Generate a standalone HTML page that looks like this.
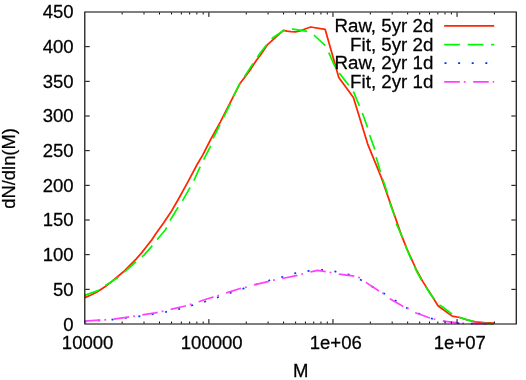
<!DOCTYPE html>
<html><head><meta charset="utf-8"><style>
html,body{margin:0;padding:0;background:#fff;overflow:hidden}
svg{display:block;will-change:transform}
text{font-family:"Liberation Sans",sans-serif;font-size:18px;fill:#000;stroke:#000;stroke-width:0.25px}
</style></head><body>
<svg width="526" height="380" viewBox="0 0 526 380">
<rect width="526" height="380" fill="#fff"/>
<path d="M84.8,297.6 L91.0,295.0 L97.4,291.8 L105.3,286.6 L111.9,281.4 L123.7,271.5 L129.6,265.6 L136.3,258.9 L141.8,252.6 L147.3,245.5 L152.0,239.6 L155.8,233.8 L163.7,222.8 L171.6,210.9 L177.8,200.2 L187.5,182.7 L197.4,164.0 L202.7,155.1 L210.4,140.0 L220.4,121.8 L239.8,83.8 L250.0,70.2 L256.6,60.0 L260.0,55.7 L267.8,44.3 L283.4,30.4 L287.0,31.2 L291.0,31.7 L295.4,31.8 L299.0,31.1 L303.0,29.8 L310.6,27.0 L325.2,29.4 L338.8,77.5 L353.4,97.6 L367.7,144.1 L381.4,177.6 L401.4,235.1 L406.9,248.8 L411.8,259.7 L416.7,270.5 L422.7,281.4 L429.6,292.2 L438.2,306.0 L452.2,316.1 L459.7,317.5 L467.1,319.8 L475.1,321.9 L484.2,322.6 L494.0,323.0" fill="none" stroke="#ff2600" stroke-width="1.75" stroke-linejoin="round"/>
<path d="M84.6,295.4 L98.8,290.2 L105.1,285.7 L117.6,277.7 L125.2,271.4 L136.5,261.4 L144.0,255.1 L152.8,245.0 L157.8,238.8 L165.3,230.0 L170.2,220.3 L177.8,207.8 L182.8,200.2 L190.3,187.2 L194.1,180.2 L200.3,166.3 L204.1,158.8 L210.4,146.3 L214.0,136.5 L219.8,125.2 L224.0,116.5 L230.3,103.9 L232.8,97.6 L239.6,83.8 L245.4,75.1 L252.9,63.8 L260.0,53.2 L267.0,44.3 L272.6,38.0 L284.7,29.8 L292.9,29.2 L307.4,31.4 L314.4,35.5 L325.5,45.8 L329.0,53.1 L335.3,67.4 L338.8,72.5 L349.6,86.3 L353.9,92.6 L359.6,106.4 L362.7,114.0 L367.7,127.8 L369.7,135.3 L374.7,149.1 L376.3,157.6 L380.6,172.6 L383.1,180.2 L388.1,195.2 L389.6,202.2 L395.2,217.8 L396.4,224.0 L401.4,235.0 L406.7,249.0 L411.5,260.0 L416.4,270.8 L422.4,281.7 L429.4,292.5 L437.9,304.2 L442.7,307.0 L453.0,314.8 L459.7,317.4 L467.1,319.7 L475.1,322.0 L481.0,323.3 L494.0,323.9" fill="none" stroke="#00f900" stroke-width="1.7" stroke-dasharray="15.5 7.7" stroke-linejoin="round"/>
<path d="M84.6,321.6 L112.6,319.6 L125.9,317.8 L139.5,316.3 L152.8,314.1 L166.1,311.8 L179.6,308.8 L192.4,305.3 L205.3,301.5 L218.1,297.2 L230.9,292.7 L243.9,288.4 L256.8,284.3 L269.8,280.2 L282.8,276.9 L295.6,273.1 L309.2,270.9 L322.5,269.9 L335.8,271.6 L348.9,274.6 L361.4,280.2 L372.7,286.9 L384.5,293.7 L396.1,301.0 L407.5,308.4 L419.8,314.0 L432.0,318.7 L445.0,321.5 L458.5,323.2 L472.0,323.6 L494.0,323.7" fill="none" stroke="#0433ff" stroke-width="1.7" stroke-dasharray="2 11.5"/>
<path d="M84.8,321.2 L98.8,320.2 L105.1,319.8 L112.6,319.2 L126.4,317.3 L132.7,316.5 L141.5,315.1 L155.3,312.8 L161.0,311.6 L169.1,309.8 L182.9,306.5 L189.2,304.8 L196.7,302.3 L200.0,301.3 L207.5,298.8 L213.2,297.1 L218.1,295.7 L226.3,292.9 L240.2,288.5 L245.2,287.4 L254.0,284.9 L267.8,281.7 L273.5,280.2 L282.4,278.5 L297.4,275.3 L302.2,274.0 L310.7,271.9 L317.5,270.3 L325.8,271.7 L330.5,272.5 L339.2,274.1 L354.3,276.2 L359.1,277.5 L365.7,282.2 L377.8,290.2 L384.0,294.0 L390.3,299.0 L403.3,306.5 L407.9,308.3 L415.4,312.8 L427.9,317.3 L434.2,319.0 L445.2,321.3 L462.8,323.3 L475.0,323.6 L494.0,323.7" fill="none" stroke="#ff40ff" stroke-width="1.7" stroke-dasharray="15.6 4.0 1.8 7.55" stroke-linejoin="round"/>
<path d="M444.2,25.9H494.2" stroke="#ff2600" stroke-width="1.85"/>
<path d="M444.2,44.65H494.2" stroke="#00f900" stroke-width="1.7" stroke-dasharray="15.7 7.8"/>
<path d="M444.5,63.1H494.2" stroke="#0433ff" stroke-width="1.7" stroke-dasharray="2 11.6"/>
<path d="M444.2,81.8H494.2" stroke="#ff40ff" stroke-width="1.7" stroke-dasharray="15.6 4.0 1.8 7.55"/>
<path d="M85.3,289.33H89.7M515.75,289.33H511.35M85.3,254.67H89.7M515.75,254.67H511.35M85.3,220.00H89.7M515.75,220.00H511.35M85.3,185.33H89.7M515.75,185.33H511.35M85.3,150.67H89.7M515.75,150.67H511.35M85.3,116.00H89.7M515.75,116.00H511.35M85.3,81.33H89.7M515.75,81.33H511.35M85.3,46.67H89.7M515.75,46.67H511.35M122.15,323.5V321.55M122.15,12.5V14.45M144.00,323.5V321.55M144.00,12.5V14.45M159.51,323.5V321.55M159.51,12.5V14.45M171.53,323.5V321.55M171.53,12.5V14.45M181.35,323.5V321.55M181.35,12.5V14.45M189.66,323.5V321.55M189.66,12.5V14.45M196.86,323.5V321.55M196.86,12.5V14.45M203.20,323.5V321.55M203.20,12.5V14.45M208.88,323.5V319.1M208.88,12.5V16.9M246.24,323.5V321.55M246.24,12.5V14.45M268.08,323.5V321.55M268.08,12.5V14.45M283.59,323.5V321.55M283.59,12.5V14.45M295.61,323.5V321.55M295.61,12.5V14.45M305.44,323.5V321.55M305.44,12.5V14.45M313.74,323.5V321.55M313.74,12.5V14.45M320.94,323.5V321.55M320.94,12.5V14.45M327.29,323.5V321.55M327.29,12.5V14.45M332.97,323.5V319.1M332.97,12.5V16.9M370.32,323.5V321.55M370.32,12.5V14.45M392.17,323.5V321.55M392.17,12.5V14.45M407.67,323.5V321.55M407.67,12.5V14.45M419.70,323.5V321.55M419.70,12.5V14.45M429.52,323.5V321.55M429.52,12.5V14.45M437.83,323.5V321.55M437.83,12.5V14.45M445.02,323.5V321.55M445.02,12.5V14.45M451.37,323.5V321.55M451.37,12.5V14.45M457.05,323.5V319.1M457.05,12.5V16.9M494.40,323.5V321.55M494.40,12.5V14.45" fill="none" stroke="#000" stroke-width="1.0"/>
<path d="M84.8,12.0H516.25V324.0H84.8Z" fill="none" stroke="#000" stroke-width="1.15"/>
<text transform="translate(73.60,330.58) scale(1.03,1)" text-anchor="end">0</text>
<text transform="translate(73.60,295.86) scale(1.03,1)" text-anchor="end">50</text>
<text transform="translate(73.60,261.14) scale(1.03,1)" text-anchor="end">100</text>
<text transform="translate(73.60,226.42) scale(1.03,1)" text-anchor="end">150</text>
<text transform="translate(73.60,191.70) scale(1.03,1)" text-anchor="end">200</text>
<text transform="translate(73.60,156.98) scale(1.03,1)" text-anchor="end">250</text>
<text transform="translate(73.60,122.26) scale(1.03,1)" text-anchor="end">300</text>
<text transform="translate(73.60,87.54) scale(1.03,1)" text-anchor="end">350</text>
<text transform="translate(73.60,52.82) scale(1.03,1)" text-anchor="end">400</text>
<text transform="translate(73.60,18.10) scale(1.03,1)" text-anchor="end">450</text>
<text transform="translate(87.60,349.30) scale(1.03,1)" text-anchor="middle">10000</text>
<text transform="translate(211.68,349.30) scale(1.03,1)" text-anchor="middle">100000</text>
<text transform="translate(335.77,349.30) scale(1.03,1)" text-anchor="middle">1e+06</text>
<text transform="translate(459.85,349.30) scale(1.03,1)" text-anchor="middle">1e+07</text>
<text transform="translate(300.70,376.70) scale(1.03,1)" text-anchor="middle">M</text>
<text transform="translate(14.90,168.40) rotate(-90) scale(1.02,1)" text-anchor="middle">dN/dln(M)</text>
<text transform="translate(433.30,31.90) scale(1.04,1)" text-anchor="end">Raw, 5yr 2d</text>
<text transform="translate(433.30,50.80) scale(1.04,1)" text-anchor="end">Fit, 5yr 2d</text>
<text transform="translate(433.30,69.10) scale(1.04,1)" text-anchor="end">Raw, 2yr 1d</text>
<text transform="translate(433.30,87.50) scale(1.04,1)" text-anchor="end">Fit, 2yr 1d</text>
</svg>
</body></html>
